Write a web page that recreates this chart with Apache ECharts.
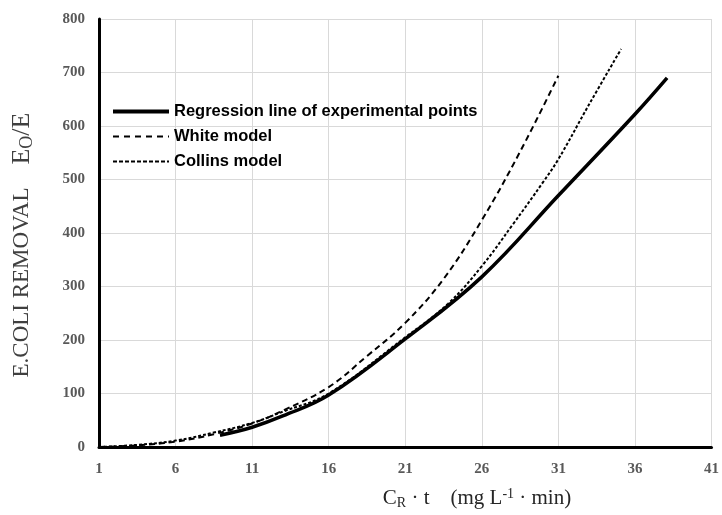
<!DOCTYPE html>
<html>
<head>
<meta charset="utf-8">
<script src="https://cdn.jsdelivr.net/npm/echarts@6/dist/echarts.min.js"></script>
<style>html,body{margin:0;padding:0;background:#fff}#c{width:722px;height:515px}</style>
</head>
<body>
<div id="c"></div>
<script>
// Data
const xTicks = [1, 6, 11, 16, 21, 26, 31, 36, 41];
const yTicks = [0, 100, 200, 300, 400, 500, 600, 700, 800];

const regressionX = [8.9, 11, 13, 16, 21, 26, 31, 36, 38.1];
const regressionY = [22, 37, 58, 97, 202, 318, 470, 622, 690];

const whiteX = [1, 3.5, 6, 8.5, 11, 13, 16, 18.5, 21, 23.5, 26, 28.5, 31];
const whiteY = [0, 3, 10, 24, 44, 68, 112, 170, 232, 314, 424, 552, 694];

const collinsX = [1, 3.5, 6, 8.5, 11, 13, 16, 21, 23.8, 26, 28, 30, 31, 33, 35.1];
const collinsY = [0, 4, 12, 27, 45, 66, 100, 205, 268, 338, 415, 495, 538, 640, 744];

const seriesNames = ['Regression line of experimental points', 'White model', 'Collins model'];

const pairs = (xs, ys) => xs.map((x, i) => [x, ys[i]]);

const chart = echarts.init(document.getElementById('c'), null, {renderer: 'canvas'});
const tickFont = {fontFamily: '"Liberation Serif", "Times New Roman", serif', fontWeight: 'bold', fontSize: 15, color: '#595959'};

chart.setOption({
  animation: false,
  backgroundColor: '#fff',
  grid: {left: 99, right: 7, top: 19, bottom: 68, containLabel: false},
  xAxis: {
    type: 'value', min: 1, max: 41,
    axisLine: {show: true, onZero: false, lineStyle: {color: '#000', width: 3}},
    axisTick: {show: false, customValues: xTicks},
    axisLabel: Object.assign({margin: 15, customValues: xTicks}, tickFont),
    splitLine: {show: true, lineStyle: {color: '#d9d9d9', width: 1}}
  },
  yAxis: {
    type: 'value', min: 0, max: 800, interval: 100,
    axisLine: {show: true, onZero: false, lineStyle: {color: '#000', width: 3}},
    axisTick: {show: false},
    axisLabel: Object.assign({margin: 14}, tickFont),
    splitLine: {show: true, lineStyle: {color: '#d9d9d9', width: 1}}
  },
  legend: {
    orient: 'vertical', left: 106, top: 98,
    itemWidth: 56, itemHeight: 14, itemGap: 8,
    itemStyle: {opacity: 0},
    textStyle: {fontFamily: '"Liberation Sans", Arial, sans-serif', fontWeight: 'bold', fontSize: 16.5, color: '#000'},
    data: [
      {name: seriesNames[0], lineStyle: {width: 4, type: 'solid', color: '#000'}},
      {name: seriesNames[1], lineStyle: {width: 2, type: [6, 5], color: '#000'}},
      {name: seriesNames[2], lineStyle: {width: 2, type: [4, 2], color: '#000'}}
    ]
  },
  series: [
    {name: seriesNames[0], type: 'line', data: pairs(regressionX, regressionY), smooth: 0.4, symbol: 'none',
     lineStyle: {color: '#000', width: 3.5, type: 'solid'}, z: 3},
    {name: seriesNames[1], type: 'line', data: pairs(whiteX, whiteY), smooth: 0.4, symbol: 'none',
     lineStyle: {color: '#000', width: 2, type: [6, 4]}, z: 2},
    {name: seriesNames[2], type: 'line', data: pairs(collinsX, collinsY), smooth: 0.4, symbol: 'none',
     lineStyle: {color: '#000', width: 2, type: [3, 2]}, z: 2}
  ],
  graphic: [
    {type: 'text', x: 22, y: 245, rotation: Math.PI / 2,
     style: {text: 'E.COLI REMOVAL    {big|E}{sub|O}{big|/E}', align: 'center', verticalAlign: 'middle',
       font: '23px "Liberation Serif", "Times New Roman", serif', fill: '#404040',
       rich: {
         big: {fontSize: 26, fontFamily: '"Liberation Serif", serif', fill: '#404040'},
         sub: {fontSize: 18, fontFamily: '"Liberation Serif", serif', fill: '#404040', padding: [10, 0, 0, 0]}}}},
    {type: 'text', x: 477, y: 498,
     style: {text: 'C{sub|R} · t    (mg L{sup|-1} · min)', align: 'center', verticalAlign: 'middle',
       font: '21px "Liberation Serif", "Times New Roman", serif', fill: '#262626',
       rich: {sub: {fontSize: 14, fontFamily: '"Liberation Serif", serif', fill: '#262626', padding: [10, 0, 0, 0]},
              sup: {fontSize: 14, fontFamily: '"Liberation Serif", serif', fill: '#262626', padding: [0, 0, 8, 0]}}}}
  ]
});
</script>
</body>
</html>
